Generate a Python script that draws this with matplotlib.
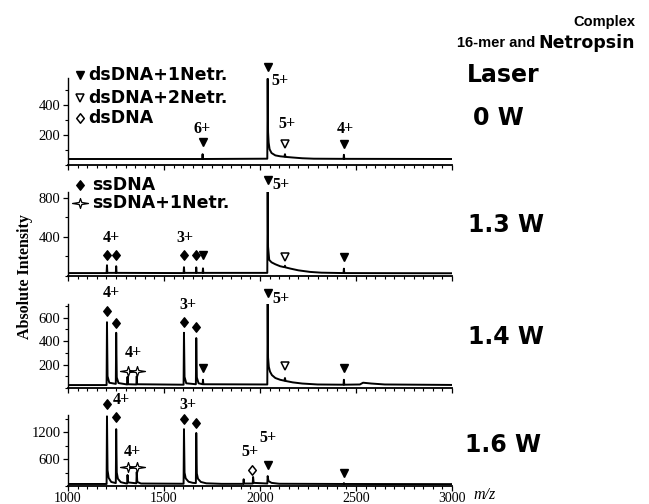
import numpy as np
import matplotlib
matplotlib.use("Agg")
import matplotlib.pyplot as plt
from matplotlib.path import Path
from matplotlib.ticker import MultipleLocator, FixedLocator

# spectrum vertices (m/z, absolute intensity)
mz_0w = [1000, 1699, 1701, 1703, 2038, 2040, 2042, 2045, 2050, 2060, 2080, 2105, 2127, 2130, 2133,
         2170, 2220, 2280, 2435, 2437, 2439, 3000]
int_0w = [40, 40, 72, 40, 42, 575, 220, 150, 105, 80, 64, 58, 55, 72, 54,
          50, 45, 42, 41, 68, 41, 40]

mz_13w = [1000, 1201, 1203, 1205, 1249, 1251, 1253, 1602, 1604, 1606, 1666, 1668, 1670, 1701, 1703, 1705,
          2038, 2040, 2042, 2048, 2060, 2080, 2105, 2127, 2130, 2133, 2160, 2200, 2260, 2320,
          2435, 2437, 2439, 3000]
int_13w = [30, 30, 110, 32, 32, 100, 32, 30, 90, 32, 32, 88, 32, 32, 78, 32,
           32, 860, 300, 165, 140, 120, 100, 90, 105, 88, 75, 58, 42, 34,
           30, 75, 30, 28]

mz_14w = [1000, 1201, 1203, 1206, 1215, 1249, 1251, 1254, 1263, 1308, 1310, 1312, 1356, 1358, 1360,
          1602, 1604, 1607, 1616, 1666, 1668, 1671, 1680, 1701, 1703, 1705,
          2038, 2040, 2042, 2046, 2052, 2062, 2080, 2105, 2127, 2130, 2133, 2170, 2220, 2300,
          2435, 2437, 2439, 2520, 2537, 2580, 2650, 3000]
int_14w = [25, 25, 560, 100, 45, 35, 470, 90, 42, 30, 95, 32, 30, 100, 32,
           28, 470, 95, 40, 32, 425, 90, 40, 32, 70, 32,
           30, 715, 260, 180, 140, 110, 85, 70, 62, 85, 60, 48, 38, 30,
           28, 70, 28, 30, 45, 38, 30, 26]

mz_16w = [1000, 1201, 1203, 1206, 1212, 1225, 1249, 1251, 1254, 1260, 1275, 1300,
          1308, 1310, 1313, 1356, 1358, 1361, 1380,
          1602, 1604, 1607, 1613, 1628, 1650, 1666, 1668, 1671, 1677, 1692, 1720, 1800,
          1913, 1915, 1917, 1962, 1964, 1967, 2038, 2040, 2044, 2060, 2100,
          2435, 2437, 2439, 3000]
int_16w = [45, 45, 1550, 350, 180, 90, 65, 1265, 300, 160, 85, 60,
           55, 245, 80, 60, 310, 90, 55,
           50, 1265, 300, 170, 95, 70, 65, 1180, 280, 160, 90, 60, 48,
           48, 150, 55, 55, 200, 70, 55, 220, 110, 70, 50,
           45, 65, 45, 42]

panel_traces = [(mz_0w, int_0w), (mz_13w, int_13w), (mz_14w, int_14w), (mz_16w, int_16w)]
panel_ylim = [580, 860, 715, 1580]
panel_yticks = [[200, 400], [400, 800], [200, 400, 600], [600, 1200]]
panel_yminor = [100, 200, 100, 300]
laser_power = ["0 W", "1.3 W", "1.4 W", "1.6 W"]

# peak markers: (symbol, m/z, height where the symbol sits)
marks_0w = [("v", 1701, 153), ("v", 2040, 650), ("vo", 2130, 140), ("v", 2437, 140)]
marks_13w = [("d", 1203, 215), ("d", 1251, 215), ("d", 1604, 215), ("d", 1668, 215), ("v", 1703, 215),
             ("v", 2040, 985), ("vo", 2130, 195), ("v", 2437, 195)]
marks_14w = [("d", 1203, 655), ("d", 1251, 550), ("s", 1310, 145), ("s", 1358, 145),
             ("d", 1604, 560), ("d", 1668, 520), ("v", 1703, 170),
             ("v", 2040, 810), ("vo", 2130, 187), ("v", 2437, 170)]
marks_16w = [("d", 1203, 1820), ("d", 1251, 1530), ("s", 1310, 420), ("s", 1358, 420),
             ("d", 1604, 1487), ("d", 1668, 1400), ("do", 1960, 355), ("v", 2040, 466), ("v", 2437, 290)]
panel_marks = [marks_0w, marks_13w, marks_14w, marks_16w]

# charge state labels: (text, m/z, height, align)
charges_0w = [("6+", 1701, 240, "center"), ("5+", 2060, 560, "left"), ("5+", 2140, 273, "center"),
              ("4+", 2443, 240, "center")]
charges_13w = [("4+", 1224, 390, "center"), ("3+", 1609, 390, "center"), ("5+", 2062, 935, "left")]
charges_14w = [("4+", 1224, 805, "center"), ("4+", 1341, 300, "center"), ("3+", 1625, 705, "center"),
               ("5+", 2062, 757, "left")]
charges_16w = [("4+", 1276, 1910, "center"), ("4+", 1333, 755, "center"), ("3+", 1625, 1800, "center"),
               ("5+", 1948, 755, "center"), ("5+", 2042, 1065, "center")]
panel_charges = [charges_0w, charges_13w, charges_14w, charges_16w]

star = Path([(1, 0), (0.16, 0.13), (0, 0.62), (-0.16, 0.13), (-1, 0), (-0.16, -0.13),
             (0, -0.62), (0.16, -0.13), (1, 0)],
            [Path.MOVETO] + [Path.LINETO] * 7 + [Path.CLOSEPOLY])
diamond = Path([(0, 1), (0.8, 0), (0, -1), (-0.8, 0), (0, 1)],
               [Path.MOVETO] + [Path.LINETO] * 3 + [Path.CLOSEPOLY])
styles = {
    "v": dict(marker="v", ms=6.3, mfc="black", mec="black"),
    "vo": dict(marker="v", ms=6.3, mfc="white", mec="black", mew=1.1),
    "d": dict(marker=diamond, ms=6.8, mfc="black", mec="black"),
    "do": dict(marker=diamond, ms=6.8, mfc="white", mec="black", mew=1.1),
    "s": dict(marker=star, ms=11.5, mfc="white", mec="black", mew=0.9),
}

serif = "Liberation Serif"
heavy = "DejaVu Sans"

W, H = 649, 504
fig = plt.figure(figsize=(W / 100, H / 100), dpi=100)
rects = [(78, 165), (192, 276), (304, 388), (415, 486)]
axes = []
for i, (top, bot) in enumerate(rects):
    ax = fig.add_axes([68 / W, 1 - bot / H, 384 / W, (bot - top) / H])
    axes.append(ax)
    mz, inten = panel_traces[i]
    ax.plot(mz, inten, color="black", lw=1.4)
    ax.set_xlim(1000, 3000)
    ax.set_ylim(0, panel_ylim[i])
    for s in ["top", "right"]:
        ax.spines[s].set_visible(False)
    ax.spines["left"].set_linewidth(1.0)
    ax.spines["bottom"].set_linewidth(1.3)
    ax.xaxis.set_major_locator(MultipleLocator(500))
    ax.xaxis.set_minor_locator(MultipleLocator(50))
    ax.yaxis.set_major_locator(FixedLocator(panel_yticks[i]))
    ax.yaxis.set_minor_locator(MultipleLocator(panel_yminor[i]))
    ax.tick_params(which="major", direction="out", length=3.5, width=0.9, labelsize=10.5, pad=2)
    ax.tick_params(axis="x", which="major", pad=0.5)
    ax.tick_params(which="minor", direction="out", length=2.5, width=0.8)
    for lab in ax.get_yticklabels():
        lab.set_family(serif)
    if i < 3:
        ax.tick_params(axis="x", labelbottom=False)
    else:
        for lab in ax.get_xticklabels():
            lab.set_family(serif)
            lab.set_fontsize(10)
    for kind, x, y in panel_marks[i]:
        ax.plot([x], [y], ls="none", clip_on=False, zorder=5, **styles[kind])
    for txt, x, y, ha in panel_charges[i]:
        ax.text(x, y, txt, ha=ha, va="center", family=serif, fontweight="bold", fontsize=11.5,
                clip_on=False)

# legends
leg1 = [("v", 1.034, "dsDNA+1Netr."), ("vo", 0.770, "dsDNA+2Netr."), ("do", 0.540, "dsDNA")]
for kind, y, txt in leg1:
    axes[0].plot([0.031], [y], ls="none", transform=axes[0].transAxes, clip_on=False, **styles[kind])
    axes[0].text(0.053, y, txt, transform=axes[0].transAxes, ha="left", va="center",
                 family=heavy, fontweight="bold", fontsize=12.5)
leg2 = [("d", 1.083, "ssDNA"), ("s", 0.869, "ssDNA+1Netr.")]
for kind, y, txt in leg2:
    axes[1].plot([0.031], [y], ls="none", transform=axes[1].transAxes, clip_on=False, **styles[kind])
    axes[1].text(0.062, y, txt, transform=axes[1].transAxes, ha="left", va="center",
                 family=heavy, fontweight="bold", fontsize=12.5)

# right side labels
fig.text(635 / W, 1 - 22 / H, "Complex", ha="right", va="center", family="Liberation Sans",
         fontweight="bold", fontsize=10.5)
fig.text(535 / W, 1 - 43 / H, "16-mer and", ha="right", va="center", family="Liberation Sans",
         fontweight="bold", fontsize=10.5)
fig.text(635 / W, 1 - 43 / H, "Netropsin", ha="right", va="center", family=heavy,
         fontweight="bold", fontsize=12.5)
fig.text(503 / W, 1 - 75 / H, "Laser", ha="center", va="center", family=heavy,
         fontweight="bold", fontsize=17)
label_y = [118, 225, 337, 445]
label_x = [498, 506, 506, 503]
for txt, x, y in zip(laser_power, label_x, label_y):
    fig.text(x / W, 1 - y / H, txt, ha="center", va="center", family=heavy,
             fontweight="bold", fontsize=17)

fig.text(25 / W, 1 - 277 / H, "Absolute Intensity", rotation=90, ha="center", va="center",
         family=serif, fontweight="bold", fontsize=11.5)
fig.text(473 / W, 1 - 495 / H, "m/z", ha="left", va="center", family=serif,
         style="italic", fontsize=11.5)

fig.savefig("out.png", dpi=100)
